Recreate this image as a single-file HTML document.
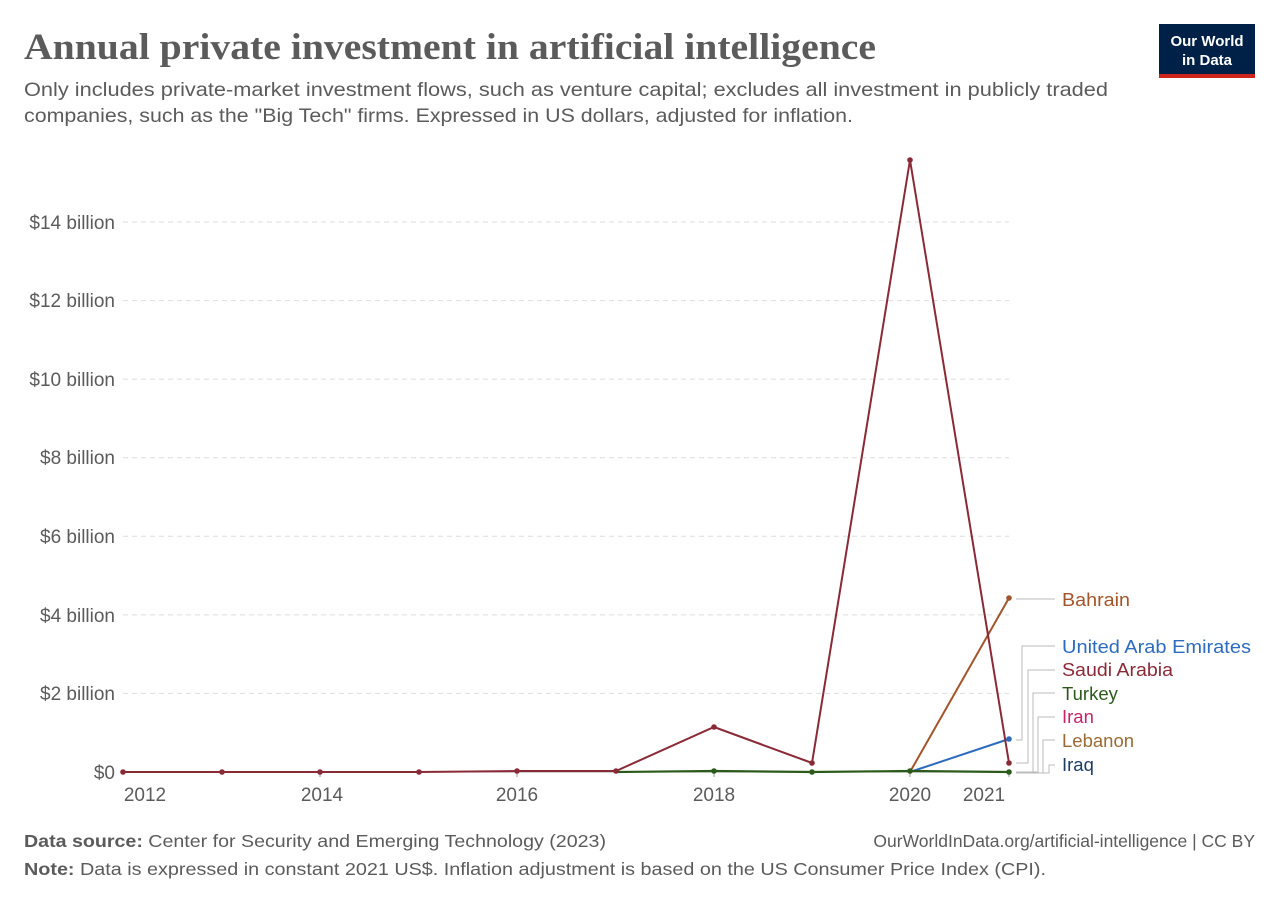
<!DOCTYPE html>
<html><head><meta charset="utf-8"><style>
body{margin:0;background:#fff;width:1280px;height:904px;overflow:hidden;font-family:"Liberation Sans",sans-serif}
</style></head><body>
<svg width="1280" height="904" xmlns="http://www.w3.org/2000/svg" font-family="Liberation Sans, sans-serif">
<text x="24" y="59" font-family="Liberation Serif, serif" font-size="37" font-weight="bold" fill="#5b5b5b" textLength="852" lengthAdjust="spacingAndGlyphs">Annual private investment in artificial intelligence</text>
<text x="24" y="96" font-size="19.5" fill="#5b5b5b" textLength="1084" lengthAdjust="spacingAndGlyphs">Only includes private-market investment flows, such as venture capital; excludes all investment in publicly traded</text>
<text x="24" y="122" font-size="19.5" fill="#5b5b5b" textLength="829" lengthAdjust="spacingAndGlyphs">companies, such as the "Big Tech" firms. Expressed in US dollars, adjusted for inflation.</text>
<rect x="1159" y="24" width="96" height="53" fill="#002147"/>
<rect x="1159" y="74" width="96" height="4" fill="#ce261e"/>
<text x="1207" y="46" font-size="15" font-weight="bold" fill="#fff" text-anchor="middle">Our World</text>
<text x="1207" y="65" font-size="15" font-weight="bold" fill="#fff" text-anchor="middle">in Data</text>
<g stroke="#ddd" stroke-dasharray="5,4" stroke-width="1">
<line x1="123" x2="1009" y1="222" y2="222"/><line x1="123" x2="1009" y1="300.6" y2="300.6"/><line x1="123" x2="1009" y1="379.1" y2="379.1"/><line x1="123" x2="1009" y1="457.7" y2="457.7"/><line x1="123" x2="1009" y1="536.3" y2="536.3"/><line x1="123" x2="1009" y1="614.9" y2="614.9"/><line x1="123" x2="1009" y1="693.4" y2="693.4"/>
</g>
<line x1="123" x2="1009" y1="772" y2="772" stroke="#999"/>
<g font-size="19" fill="#5b5b5b" text-anchor="end">
<text x="115" y="229">$14 billion</text><text x="115" y="307">$12 billion</text><text x="115" y="386">$10 billion</text><text x="115" y="464">$8 billion</text><text x="115" y="543">$6 billion</text><text x="115" y="622">$4 billion</text><text x="115" y="700">$2 billion</text><text x="115" y="779">$0</text>
</g>
<g stroke="#999"><line x1="320" x2="320" y1="772" y2="777"/><line x1="517" x2="517" y1="772" y2="777"/><line x1="714" x2="714" y1="772" y2="777"/><line x1="910" x2="910" y1="772" y2="777"/><line x1="1009" x2="1009" y1="772" y2="777"/></g>
<g font-size="19" fill="#5b5b5b" text-anchor="middle">
<text x="145" y="801">2012</text><text x="322" y="801">2014</text><text x="517" y="801">2016</text><text x="714" y="801">2018</text><text x="910" y="801">2020</text><text x="984" y="801">2021</text>
</g>
<polyline fill="none" stroke="#2d6bbf" stroke-width="2" points="910,772 1009,739"/>
<circle cx="1009" cy="739" r="2.8" fill="#2d6bbf"/>
<polyline fill="none" stroke="#a2552a" stroke-width="2" points="910,772 1009,598"/>
<circle cx="1009" cy="598" r="2.8" fill="#a2552a"/>
<polyline fill="none" stroke="#2c5a1b" stroke-width="2.2" points="616,772 714,771 812,772 910,771 1009,772"/>
<g fill="#2c5a1b"><circle cx="714" cy="771" r="2.8"/><circle cx="812" cy="772" r="2.8"/><circle cx="910" cy="771" r="2.8"/><circle cx="1009" cy="772" r="2.8"/></g>
<polyline fill="none" stroke="#8a2a37" stroke-width="2" points="123,772 222,772 320,772 419,772 517,771 616,771 714,727 812,763 910,160 1009,763"/>
<g fill="#8a2a37"><circle cx="123" cy="772" r="2.8"/><circle cx="222" cy="772" r="2.8"/><circle cx="320" cy="772" r="2.8"/><circle cx="419" cy="772" r="2.8"/><circle cx="517" cy="771" r="2.8"/><circle cx="616" cy="771" r="2.8"/><circle cx="714" cy="727" r="2.8"/><circle cx="812" cy="763" r="2.8"/><circle cx="910" cy="160" r="2.8"/><circle cx="1009" cy="763" r="2.8"/></g>
<g fill="none" stroke="#bbb" stroke-width="1">
<path d="M1016 599H1055"/>
<path d="M1016 740H1022V646H1055"/>
<path d="M1016 763H1028V670H1055"/>
<path d="M1016 772H1033V693H1055"/>
<path d="M1016 772H1038V717H1055"/>
<path d="M1016 773H1043V740H1055"/>
<path d="M1016 773H1049V765H1055"/>
</g>
<g font-size="18.5">
<text x="1062" y="606" fill="#a2552a" textLength="68" lengthAdjust="spacingAndGlyphs">Bahrain</text>
<text x="1062" y="653" fill="#2d6bbf" textLength="189" lengthAdjust="spacingAndGlyphs">United Arab Emirates</text>
<text x="1062" y="676" fill="#8a2a37" textLength="111" lengthAdjust="spacingAndGlyphs">Saudi Arabia</text>
<text x="1062" y="700" fill="#2c5a1b">Turkey</text>
<text x="1062" y="723" fill="#c8246e">Iran</text>
<text x="1062" y="747" fill="#9a6b35">Lebanon</text>
<text x="1062" y="771" fill="#1d3d63">Iraq</text>
</g>
<g font-size="17.5" fill="#5b5b5b">
<text x="24" y="847" textLength="582" lengthAdjust="spacingAndGlyphs"><tspan font-weight="bold">Data source:</tspan> Center for Security and Emerging Technology (2023)</text>
<text x="1255" y="847" text-anchor="end">OurWorldInData.org/artificial-intelligence | CC BY</text>
<text x="24" y="875" textLength="1022" lengthAdjust="spacingAndGlyphs"><tspan font-weight="bold">Note:</tspan> Data is expressed in constant 2021 US$. Inflation adjustment is based on the US Consumer Price Index (CPI).</text>
</g>
</svg>
</body></html>
